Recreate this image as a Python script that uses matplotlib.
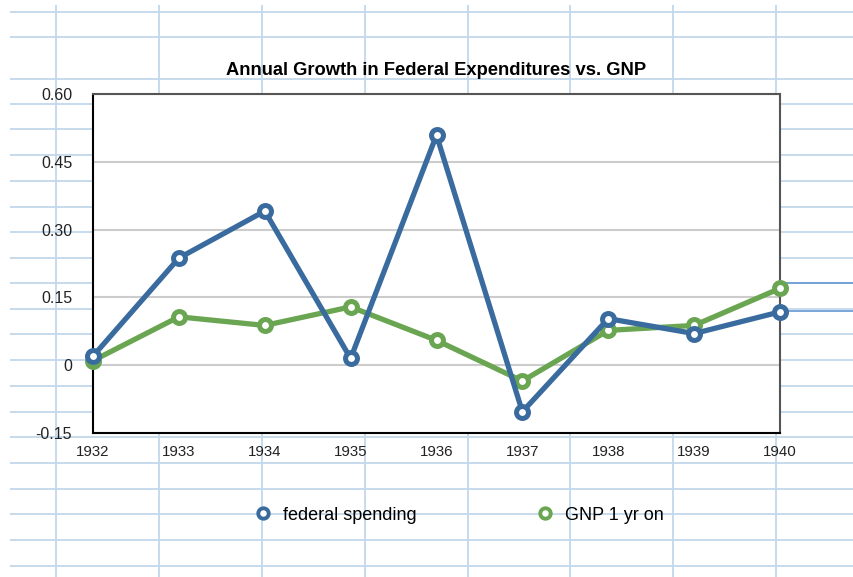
import matplotlib
matplotlib.use("Agg")
import matplotlib.pyplot as plt

plt.rcParams['font.family'] = ['Liberation Sans', 'DejaVu Sans']

# chart data (annual growth rates)
years = [1932, 1933, 1934, 1935, 1936, 1937, 1938, 1939, 1940]
federal_spending = [0.02, 0.237, 0.341, 0.015, 0.509, -0.103, 0.103, 0.070, 0.118]
gnp_1yr_on = [0.01, 0.107, 0.088, 0.129, 0.055, -0.035, 0.077, 0.088, 0.170]
y_ticks = [-0.15, 0, 0.15, 0.30, 0.45, 0.60]
y_tick_labels = ['-0.15', '0', '0.15', '0.30', '0.45', '0.60']

BLUE = '#3a6b9f'
GREEN = '#6aa551'
SHEET = '#c3d8ea'

W, H = 854, 577
fig = plt.figure(figsize=(W / 100, H / 100), dpi=100)

# spreadsheet cells behind the chart (pixel coords)
bg = fig.add_axes([0, 0, 1, 1], zorder=0)
bg.set_xlim(0, W)
bg.set_ylim(H, 0)
bg.axis('off')
rows = [12, 37, 79, 104, 129, 155, 181, 207, 232, 258, 283, 309, 334, 360,
        386, 412, 437, 463, 489, 514, 540, 566]
cols = [56, 159, 262, 365, 468, 570, 673, 776]
bg.hlines(rows, 10, W, color=SHEET, lw=1.3)
bg.vlines(cols, 5, H, color=SHEET, lw=1.3)
# selected cells on the right
bg.hlines([283, 311], 780, W, color='#6f9fd6', lw=1.3)

# plot area
ax = fig.add_axes([93 / W, 1 - 433 / H, 687 / W, 339 / H], zorder=2)
ax.set_facecolor('white')
ax.plot(years, federal_spending, color=BLUE, lw=3.8, marker='o', ms=8.6,
        mew=3.6, mfc='white', mec=BLUE, clip_on=False, zorder=4,
        label='federal spending')
ax.plot(years, gnp_1yr_on, color=GREEN, lw=3.8, marker='o', ms=8.6,
        mew=3.6, mfc='white', mec=GREEN, clip_on=False, zorder=3,
        label='GNP 1 yr on')

ax.set_xlim(years[0], years[-1])
ax.set_ylim(-0.15, 0.60)
ax.set_xticks(years)
ax.set_xticklabels([str(y) for y in years], fontsize=10.8, color='#222222')
ax.set_yticks(y_ticks)
ax.set_yticklabels(y_tick_labels, fontsize=11.5, color='#222222')
ax.tick_params(axis='both', length=0)
ax.tick_params(axis='y', pad=15)
ax.tick_params(axis='x', pad=9)
ax.grid(axis='y', color='#cccccc', lw=1.5, zorder=1)
ax.set_axisbelow(True)

for side in ['left', 'bottom']:
    ax.spines[side].set_color('black')
    ax.spines[side].set_linewidth(1.5)
for side in ['top', 'right']:
    ax.spines[side].set_color('#555555')
    ax.spines[side].set_linewidth(1.5)

ax.set_title('Annual Growth in Federal Expenditures vs. GNP', fontsize=13.2,
             fontweight='bold', pad=14)

# legend with markers only
handles = [
    plt.Line2D([], [], ls='none', marker='o', ms=7.5, mew=2.8, mfc='white',
               mec=BLUE, label='federal spending'),
    plt.Line2D([], [], ls='none', marker='o', ms=7.5, mew=2.8, mfc='white',
               mec=GREEN, label='GNP 1 yr on'),
]
fig.legend(handles=handles, loc='center', bbox_to_anchor=(458 / W, 1 - 515 / H),
           ncol=2, frameon=False, fontsize=13, columnspacing=6.5,
           handletextpad=0.5, handlelength=1.2)

fig.savefig('out.png', dpi=100)
